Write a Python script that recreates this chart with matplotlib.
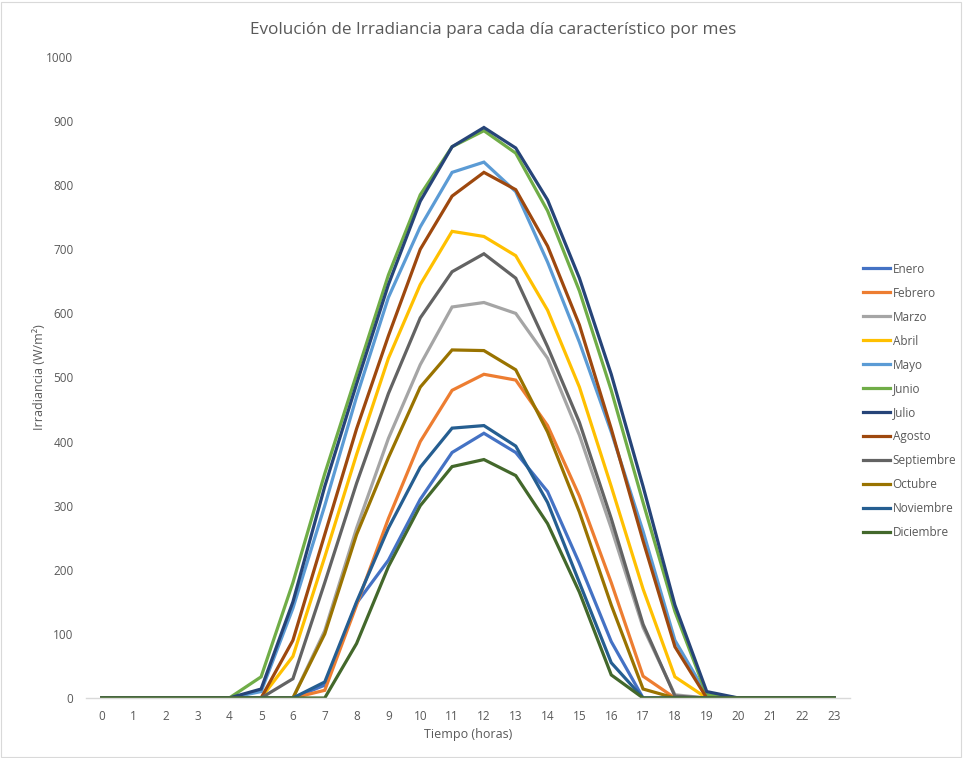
import matplotlib
matplotlib.use("Agg")
import matplotlib.pyplot as plt
from matplotlib.patches import Rectangle

plt.rcParams['font.family'] = ['Open Sans', 'DejaVu Sans']

hours = list(range(24))
months = ["Enero", "Febrero", "Marzo", "Abril", "Mayo", "Junio", "Julio",
          "Agosto", "Septiembre", "Octubre", "Noviembre", "Diciembre"]
colors = ["#4472C4", "#ED7D31", "#A5A5A5", "#FFC000", "#5B9BD5", "#70AD47",
          "#264478", "#9E480E", "#636363", "#997300", "#255E91", "#43682B"]

enero =      [0, 0, 0, 0, 0, 0, 0, 20, 148, 215, 310, 383, 413, 383, 322, 210, 88, 0, 0, 0, 0, 0, 0, 0]
febrero =    [0, 0, 0, 0, 0, 0, 0, 12, 145, 280, 400, 480, 505, 496, 425, 315, 180, 34, 0, 0, 0, 0, 0, 0]
marzo =      [0, 0, 0, 0, 0, 0, 0, 105, 265, 405, 520, 610, 617, 600, 530, 410, 265, 110, 5, 0, 0, 0, 0, 0]
abril =      [0, 0, 0, 0, 0, 0, 65, 220, 380, 530, 645, 728, 720, 690, 605, 485, 330, 170, 33, 0, 0, 0, 0, 0]
mayo =       [0, 0, 0, 0, 0, 10, 140, 300, 470, 625, 735, 820, 836, 790, 680, 555, 415, 260, 90, 5, 0, 0, 0, 0]
junio =      [0, 0, 0, 0, 0, 33, 180, 350, 505, 660, 785, 860, 885, 850, 760, 635, 480, 305, 135, 5, 0, 0, 0, 0]
julio =      [0, 0, 0, 0, 0, 14, 150, 330, 490, 645, 775, 860, 890, 858, 777, 655, 505, 330, 145, 10, 0, 0, 0, 0]
agosto =     [0, 0, 0, 0, 0, 0, 90, 255, 420, 565, 700, 783, 820, 793, 705, 582, 420, 245, 80, 0, 0, 0, 0, 0]
septiembre = [0, 0, 0, 0, 0, 0, 30, 180, 335, 475, 593, 665, 693, 655, 548, 430, 280, 115, 3, 0, 0, 0, 0, 0]
octubre =    [0, 0, 0, 0, 0, 0, 0, 100, 255, 375, 485, 543, 542, 512, 415, 290, 145, 14, 0, 0, 0, 0, 0, 0]
noviembre =  [0, 0, 0, 0, 0, 0, 0, 25, 150, 265, 360, 421, 425, 393, 305, 180, 55, 0, 0, 0, 0, 0, 0, 0]
diciembre =  [0, 0, 0, 0, 0, 0, 0, 0, 85, 205, 300, 361, 372, 347, 272, 165, 36, 0, 0, 0, 0, 0, 0, 0]

series = [enero, febrero, marzo, abril, mayo, junio, julio, agosto,
          septiembre, octubre, noviembre, diciembre]

fig = plt.figure(figsize=(9.63, 7.58), dpi=100)
fig.patches.append(Rectangle((0.001, 0.001), 0.997, 0.997, transform=fig.transFigure,
                             fill=False, edgecolor="#D9D9D9", linewidth=0.8))
ax = fig.add_axes([86 / 963, 1 - 698 / 758, (850 - 86) / 963, (698 - 57) / 758])

for name, vals, c in zip(months, series, colors):
    ax.plot(hours, vals, color=c, linewidth=2.3, label=name, solid_joinstyle="miter")

ax.set_xlim(-0.5, 23.5)
ax.set_ylim(0, 1000)
ax.set_xticks(hours)
ax.set_yticks(range(0, 1001, 100))
ax.tick_params(axis="both", length=0, labelsize=8.5, colors="#595959")
ax.tick_params(axis="x", pad=9)
ax.tick_params(axis="y", pad=9)
for s in ["top", "right", "left"]:
    ax.spines[s].set_visible(False)
ax.spines["bottom"].set_color("#D9D9D9")
ax.spines["bottom"].set_linewidth(1.0)

ax.set_xlabel("Tiempo (horas)", fontsize=9, color="#595959", labelpad=3)
ax.set_ylabel("Irradiancia (W/m²)", fontsize=9, color="#595959", labelpad=0)

fig.text(493 / 963, 1 - 30 / 758, "Evolución de Irradiancia para cada día característico por mes",
         ha="center", va="center", fontsize=12.3, color="#595959")

leg = ax.legend(loc="center left", bbox_to_anchor=(863 / 963, 1 - 401 / 758),
                bbox_transform=fig.transFigure, frameon=False, fontsize=8.5,
                handlelength=2.3, handletextpad=0.2, labelspacing=0.93,
                borderaxespad=0, borderpad=0)
for t in leg.get_texts():
    t.set_color("#595959")

fig.savefig("out.png", dpi=100)
